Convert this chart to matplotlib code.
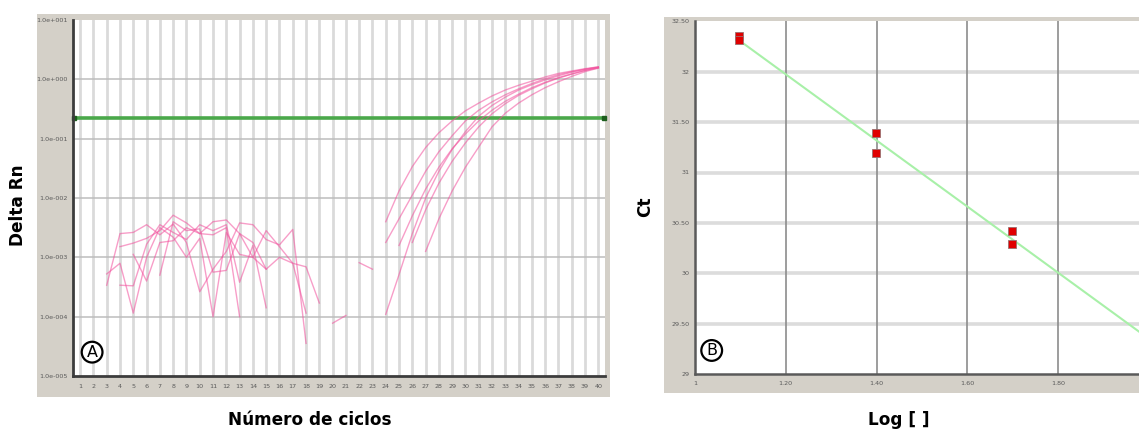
import numpy as np
import matplotlib
matplotlib.use("Agg")
import matplotlib.pyplot as plt
from matplotlib.patches import Rectangle
from matplotlib.ticker import FixedLocator, FixedFormatter, NullLocator

nan = np.nan

# ---------------- Panel A: amplification plot (log10 of Delta Rn per cycle) ----------------
cycles = list(range(1, 41))
y_tick_vals = [1e-5, 1e-4, 1e-3, 1e-2, 1e-1, 1e0, 1e1]
y_tick_text = ["1.0e-005", "1.0e-004", "1.0e-003", "1.0e-002", "1.0e-001", "1.0e+000", "1.0e+001"]
threshold = 0.225

# early (background) cycles: first cycle of each trace + log10 values
noise_start = [4, 3, 4, 3, 5, 7]
noise_log = [
    [-2.82, -2.76, -2.68, -2.55, -2.29, -2.42, -2.60, -2.40, -2.37, -2.60, -3.00, -2.55, -2.82, -3.10, -3.16, -3.77],
    [-3.47, -2.60, -2.58, -2.45, -2.62, -2.44, -2.75, -3.58, -3.20, -2.90, -2.42, -2.45, -2.70, -2.79, -2.53, -4.45],
    [-3.47, -3.48, -2.78, -2.45, -2.58, -2.70, -2.45, -2.55, -2.45, -3.42, -2.80, -3.85],
    [-3.28, -3.10, -3.94, -3.00, -2.50, -2.66, -3.00, -2.68, -4.00, -2.58, -2.95, -3.00, -3.20, -3.00, -3.10, -3.94],
    [-2.95, -3.40, -2.75, -2.72, -2.50, -2.60, -2.62, -2.50, -4.00],
    [-3.30, -2.40, -2.55, -2.52, -3.25, -3.22, -2.60, -2.75, -3.20],
]

# short isolated fragments between background and rise
frag_start = [20, 22]
frag_log = [
    [-4.11, -3.98],
    [-3.09, -3.20],
]

# exponential / plateau phase: first cycle of each trace + log10 values up to cycle 40
rise_start = [24, 24, 24, 25, 26, 27]
rise_log = [
    [-2.40, -1.88, -1.47, -1.15, -0.90, -0.70, -0.53, -0.40, -0.28, -0.18, -0.10, -0.03, 0.04, 0.10, 0.14, 0.18, 0.21],
    [-2.75, -2.35, -1.95, -1.55, -1.22, -0.95, -0.70, -0.52, -0.38, -0.26, -0.16, -0.07, 0.01, 0.08, 0.13, 0.17, 0.20],
    [-3.96, -3.29, -2.60, -2.00, -1.55, -1.18, -0.88, -0.62, -0.44, -0.30, -0.18, -0.09, -0.01, 0.06, 0.12, 0.17, 0.21],
    [-2.80, -2.30, -1.85, -1.48, -1.17, -0.92, -0.70, -0.52, -0.37, -0.25, -0.14, -0.05, 0.03, 0.09, 0.15, 0.19],
    [-2.75, -2.20, -1.75, -1.38, -1.07, -0.80, -0.58, -0.41, -0.27, -0.16, -0.06, 0.02, 0.09, 0.15, 0.20],
    [-2.90, -2.35, -1.88, -1.48, -1.14, -0.80, -0.57, -0.40, -0.26, -0.14, -0.04, 0.05, 0.13, 0.19],
]

# ---------------- Panel B: standard curve ----------------
log_qty = [1.097, 1.097, 1.398, 1.398, 1.699, 1.699]
ct_vals = [32.35, 32.31, 31.39, 31.19, 30.42, 30.29]
b_xticks = [1.0, 1.2, 1.4, 1.6, 1.8]
b_xtext = ["1", "1.20", "1.40", "1.60", "1.80"]
b_yticks = [29, 29.5, 30, 30.5, 31, 31.5, 32, 32.5]
b_ytext = ["29", "29.50", "30", "30.50", "31", "31.50", "32", "32.50"]

# ---------------- figure layout (pixel based) ----------------
W, H = 1139, 430
fig = plt.figure(figsize=(W / 100, H / 100), dpi=100)
fig.patch.set_facecolor("white")

GREY = "#d4d0c8"
PINK = "#f24f9c"
TICK_COL = "#5a5a5a"
FONT = "DejaVu Sans"


def fig_box(x0, y0, x1, y1):
    """pixel box (top-left origin) -> figure fraction [left, bottom, width, height]"""
    return [x0 / W, 1 - y1 / H, (x1 - x0) / W, (y1 - y0) / H]


def grey_panel(x0, y0, x1, y1):
    l, b, w, h = fig_box(x0, y0, x1, y1)
    fig.patches.append(Rectangle((l, b), w, h, transform=fig.transFigure,
                                 facecolor=GREY, edgecolor="none", zorder=-5))


grey_panel(37, 14, 610, 397)
grey_panel(664, 17, 1145, 393)

# ---------- Panel A ----------
axA = fig.add_axes(fig_box(73.5, 20, 605, 376))
axA.set_zorder(1)
axA.set_facecolor("white")
axA.set_yscale("log")
axA.set_xlim(0.5, 40.5)
axA.set_ylim(1e-5, 1e1)

for c in cycles:
    axA.axvline(c, color="#dadada", lw=2.0, zorder=1)
for v in y_tick_vals[1:-1]:
    axA.axhline(v, color="#bdbdbd", lw=1.1, zorder=1)

axA.axhline(threshold, color="#4aa84a", lw=2.6, zorder=2)
axA.plot([0.55, 40.45], [threshold, threshold], ls="none", marker="s", ms=2.2,
         color="#1d5e1d", zorder=3, clip_on=False)


def draw_trace(start, vals):
    xs = np.arange(start, start + len(vals))
    ys = 10.0 ** np.asarray(vals)
    axA.plot(xs, ys, color=PINK, lw=1.0, alpha=0.55, zorder=4,
             solid_joinstyle="round")


for s, v in zip(noise_start, noise_log):
    draw_trace(s, v)
for s, v in zip(frag_start, frag_log):
    draw_trace(s, v)
for s, v in zip(rise_start, rise_log):
    draw_trace(s, v)

axA.xaxis.set_major_locator(FixedLocator(cycles))
axA.xaxis.set_major_formatter(FixedFormatter([str(c) for c in cycles]))
axA.yaxis.set_major_locator(FixedLocator(y_tick_vals))
axA.yaxis.set_major_formatter(FixedFormatter(y_tick_text))
axA.yaxis.set_minor_locator(NullLocator())
axA.tick_params(axis="both", length=0, labelsize=4.6, labelcolor=TICK_COL)
axA.tick_params(axis="x", pad=6)
axA.tick_params(axis="y", pad=4)
for side in ("top", "right"):
    axA.spines[side].set_visible(False)
for side in ("left", "bottom"):
    axA.spines[side].set_color("#3c3c3c")
    axA.spines[side].set_linewidth(2.0)
    axA.spines[side].set_zorder(6)

axA.text(0.035, 0.067, "A", transform=axA.transAxes, ha="center", va="center",
         fontsize=11.5, family=FONT, color="black", zorder=7,
         bbox=dict(boxstyle="circle,pad=0.18", fc="white", ec="black", lw=1.6))

# ---------- Panel B ----------
axB = fig.add_axes(fig_box(694.9, 21.3, 1148.9, 374.1))
axB.set_zorder(1)
axB.set_facecolor("white")
axB.set_xlim(1.0, 2.0)
axB.set_ylim(29, 32.5)

for v in b_yticks[1:-1]:
    axB.axhline(v, color="#dcdcdc", lw=2.6, zorder=1)
for v in b_xticks[1:]:
    axB.axvline(v, color="#8c8c8c", lw=1.2, zorder=1)

slope, intercept = np.polyfit(log_qty, ct_vals, 1)
fit_x = np.array([min(log_qty), 2.0])
axB.plot(fit_x, slope * fit_x + intercept, color="#a8f0a8", lw=1.5, zorder=3)
axB.plot(log_qty, ct_vals, ls="none", marker="s", ms=5.2, mfc="#e00000",
         mec="#9a7070", mew=0.6, zorder=4)

axB.xaxis.set_major_locator(FixedLocator(b_xticks))
axB.xaxis.set_major_formatter(FixedFormatter(b_xtext))
axB.yaxis.set_major_locator(FixedLocator(b_yticks))
axB.yaxis.set_major_formatter(FixedFormatter(b_ytext))
axB.tick_params(axis="both", length=0, labelsize=4.6, labelcolor=TICK_COL)
axB.tick_params(axis="x", pad=5)
axB.tick_params(axis="y", pad=4)
for side in ("top", "right"):
    axB.spines[side].set_visible(False)
for side in ("left", "bottom"):
    axB.spines[side].set_color("#5a5a5a")
    axB.spines[side].set_linewidth(1.8)
    axB.spines[side].set_zorder(6)

axB.text(0.037, 0.067, "B", transform=axB.transAxes, ha="center", va="center",
         fontsize=11.5, family=FONT, color="black", zorder=7,
         bbox=dict(boxstyle="circle,pad=0.18", fc="white", ec="black", lw=1.6))

# ---------- axis titles ----------
title_kw = dict(fontsize=12.2, fontweight="bold", family=FONT, color="black")
fig.text(18 / W, 1 - 205 / H, "Delta Rn", rotation=90, ha="center", va="center", **title_kw)
fig.text(310 / W, 1 - 420 / H, "Número de ciclos", ha="center", va="center", **title_kw)
fig.text(645 / W, 1 - 207 / H, "Ct", rotation=90, ha="center", va="center", **title_kw)
fig.text(899 / W, 1 - 420 / H, "Log [ ]", ha="center", va="center", **title_kw)

fig.savefig("out.png", dpi=100, facecolor="white")
